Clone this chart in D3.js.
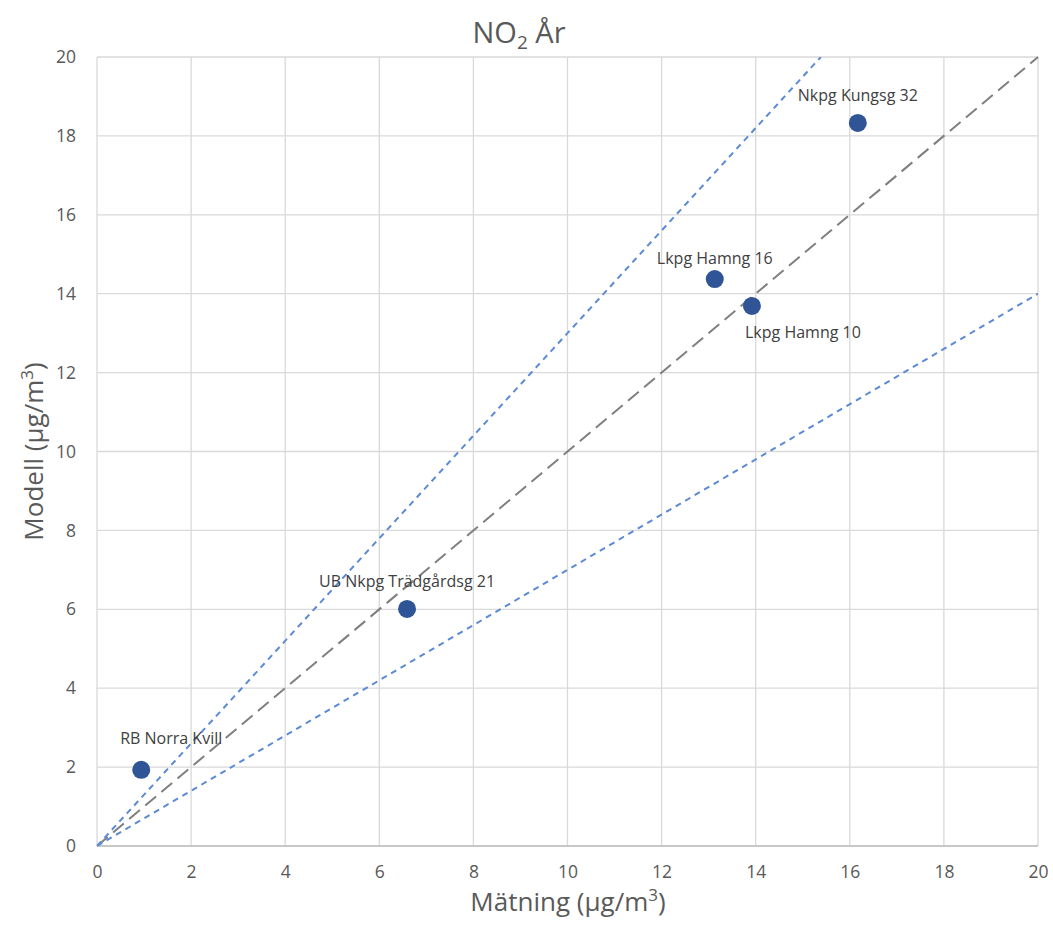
<!DOCTYPE html>
<html>
<head>
<meta charset="utf-8">
<script src="https://cdn.jsdelivr.net/npm/d3@7"></script>
<style>
  body { margin: 0; background: #fff; }
  text { font-family: "Open Sans", Lato, sans-serif; }
</style>
</head>
<body>
<svg id="chart"></svg>
<script>
const stations = ["RB Norra Kvill", "UB Nkpg Trädgårdsg 21", "Lkpg Hamng 16", "Lkpg Hamng 10", "Nkpg Kungsg 32"];
const measured = [0.94, 6.59, 13.13, 13.92, 16.17];
const modelled = [1.93, 6.01, 14.37, 13.69, 18.33];
const labelSide = ["above-right", "above", "above-close", "below-right", "above"];
const ticks = [0, 2, 4, 6, 8, 10, 12, 14, 16, 18, 20];
const refSlopes = [1.3, 0.7];

const width = 1053;
const height = 926;
const margin = { left: 97, right: 15, top: 57, bottom: 80 };

const svg = d3.select("#chart").attr("width", width).attr("height", height);

const x = d3.scaleLinear().domain([0, 20]).range([margin.left, width - margin.right]);
const y = d3.scaleLinear().domain([0, 20]).range([height - margin.bottom, margin.top]);

// gridlines
svg.append("g")
  .selectAll("line.v")
  .data(ticks)
  .enter()
  .append("line")
  .attr("x1", (d) => x(d)).attr("x2", (d) => x(d))
  .attr("y1", y(0)).attr("y2", y(20))
  .attr("stroke", "#d9d9d9").attr("stroke-width", 1.3);

svg.append("g")
  .selectAll("line.h")
  .data(ticks)
  .enter()
  .append("line")
  .attr("y1", (d) => y(d)).attr("y2", (d) => y(d))
  .attr("x1", x(0)).attr("x2", x(20))
  .attr("stroke", "#d9d9d9").attr("stroke-width", 1.3);

// axes (labels only)
const xAxis = d3.axisBottom(x).tickValues(ticks).tickSize(0).tickPadding(20);
const yAxis = d3.axisLeft(y).tickValues(ticks).tickSize(0).tickPadding(21);

const gx = svg.append("g").attr("transform", `translate(0, ${y(0)})`).call(xAxis);
const gy = svg.append("g").attr("transform", `translate(${x(0)}, 0)`).call(yAxis);
[gx, gy].forEach((g) => {
  g.select(".domain").remove();
  g.selectAll("text").attr("font-size", 17.5).attr("fill", "#595959")
    .attr("font-family", "'Open Sans', sans-serif");
});
svg.append("line")
  .attr("x1", x(0)).attr("x2", x(20)).attr("y1", y(0)).attr("y2", y(0))
  .attr("stroke", "#bfbfbf").attr("stroke-width", 1.5);

// reference lines
svg.append("clipPath").attr("id", "plot")
  .append("rect")
  .attr("x", x(0)).attr("y", y(20))
  .attr("width", x(20) - x(0)).attr("height", y(0) - y(20));

svg.append("line")
  .attr("x1", x(0)).attr("y1", y(0)).attr("x2", x(20)).attr("y2", y(20))
  .attr("stroke", "#7f7f7f").attr("stroke-width", 2)
  .attr("stroke-dasharray", "14,7");

svg.append("g").attr("clip-path", "url(#plot)")
  .selectAll("line")
  .data(refSlopes)
  .enter()
  .append("line")
  .attr("x1", x(0)).attr("y1", y(0))
  .attr("x2", (d) => x(Math.min(20, 20 / d)))
  .attr("y2", (d) => y(Math.min(20, 20 / d) * d))
  .attr("stroke", "#5b8ad6").attr("stroke-width", 2)
  .attr("stroke-dasharray", "6,5");

// points
const pts = stations.map((s, i) => ({ name: s, mx: measured[i], my: modelled[i], side: labelSide[i] }));

svg.selectAll("circle")
  .data(pts)
  .enter()
  .append("circle")
  .attr("cx", (d) => x(d.mx))
  .attr("cy", (d) => y(d.my))
  .attr("r", 9)
  .attr("fill", "#2f5597");

const offsets = {
  "above": [0, -22],
  "above-close": [0, -15],
  "above-right": [30, -26],
  "below-right": [51, 32]
};

svg.selectAll("text.lbl")
  .data(pts)
  .enter()
  .append("text")
  .attr("class", "lbl")
  .attr("x", (d) => x(d.mx) + offsets[d.side][0])
  .attr("y", (d) => y(d.my) + offsets[d.side][1])
  .attr("text-anchor", "middle")
  .attr("font-size", 16)
  .attr("fill", "#404040")
  .text((d) => d.name);

// title
const title = svg.append("text")
  .attr("x", 519).attr("y", 43)
  .attr("text-anchor", "middle")
  .attr("font-size", 29)
  .attr("fill", "#595959");
title.append("tspan").text("NO");
title.append("tspan").attr("font-size", 19).attr("dy", 6).text("2");
title.append("tspan").attr("dy", -6).text(" År");

// axis titles
const xt = svg.append("text")
  .attr("x", 568).attr("y", 911)
  .attr("text-anchor", "middle")
  .attr("font-size", 26)
  .attr("fill", "#595959");
xt.append("tspan").text("Mätning (µg/m");
xt.append("tspan").attr("font-size", 17).attr("dy", -10).text("3");
xt.append("tspan").attr("dy", 10).text(")");

const yt = svg.append("text")
  .attr("transform", `translate(43, ${y(10)}) rotate(-90)`)
  .attr("text-anchor", "middle")
  .attr("font-size", 26)
  .attr("fill", "#595959");
yt.append("tspan").text("Modell (µg/m");
yt.append("tspan").attr("font-size", 17).attr("dy", -10).text("3");
yt.append("tspan").attr("dy", 10).text(")");
</script>
</body>
</html>
